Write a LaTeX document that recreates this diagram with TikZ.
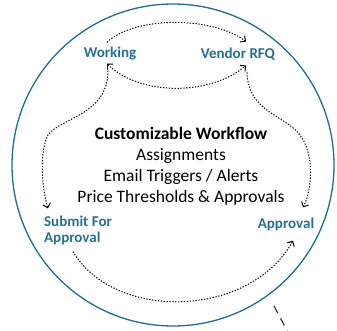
\documentclass[tikz,border=0pt]{standalone}
\usepackage{fontspec}
\setmainfont{Carlito}
\usetikzlibrary{arrows.meta}
\definecolor{ringblue}{RGB}{31,110,140}
\definecolor{stageblue}{RGB}{40,112,145}
\tikzset{
  stage/.style={text=stageblue, font=\bfseries\fontsize{15}{16}\selectfont, inner sep=1pt},
  flow/.style={dash pattern=on 1.3pt off 1.6pt, line width=1pt, -{Straight Barb[angle=90:4.5pt 1]}},
}
\begin{document}
\begin{tikzpicture}[x=1pt, y=-1pt]
  \useasboundingbox (0,0) rectangle (337,331);
  % 1. ring
  \draw[ringblue, line width=1.3pt] (173,165) circle (161pt);

  % 2. stages
  \node[stage] (working) at (110,54) {Working};
  \node[stage] (rfq) at (238,54) {Vendor RFQ};
  \node[stage, align=left] (submit) at (78,230) {Submit For\\Approval};
  \node[stage] (approval) at (286,224) {Approval};
  \node[font=\fontsize{17.5}{21}\selectfont, align=center] (core) at (181,166)
    {\textbf{Customizable Workflow}\\Assignments\\Email Triggers / Alerts\\Price Thresholds \& Approvals};

  % 3. flow arrows
  \draw[flow] ([xshift=-3pt,yshift=4pt]working.north) .. controls (135,16) and (212,16) .. ([xshift=8pt,yshift=5pt]rfq.north);
  \draw[flow, {Straight Barb[angle=90:4.5pt 1]}-{Straight Barb[angle=90:4.5pt 1]}] ([xshift=-3pt,yshift=-2pt]working.south) .. controls (140,96) and (210,96) .. ([xshift=8pt,yshift=-4pt]rfq.south);
  \draw[flow] ([xshift=-2pt,yshift=-9pt]working.south) .. controls (108,115) and (60,118) .. (48,135) .. controls (40,150) and (41,185) .. ([xshift=5pt,yshift=6pt]submit.north west);
  \draw[flow] ([xshift=9pt,yshift=-11pt]rfq.south) .. controls (248,112) and (285,115) .. (300,135) .. controls (315,155) and (312,190) .. ([xshift=17pt,yshift=9pt]approval.north);
  \draw[flow] ([xshift=-5pt,yshift=-6pt]submit.south) .. controls (115,322) and (250,318) .. ([xshift=7pt,yshift=-9pt]approval.south);

  % 4. exit line
  \coordinate (exitA) at (274,306);
  \coordinate (exitB) at (291,338);
  \draw[black!80, line width=1.2pt, dash pattern=on 8pt off 6pt] (exitA) -- (exitB);
\end{tikzpicture}
\end{document}
